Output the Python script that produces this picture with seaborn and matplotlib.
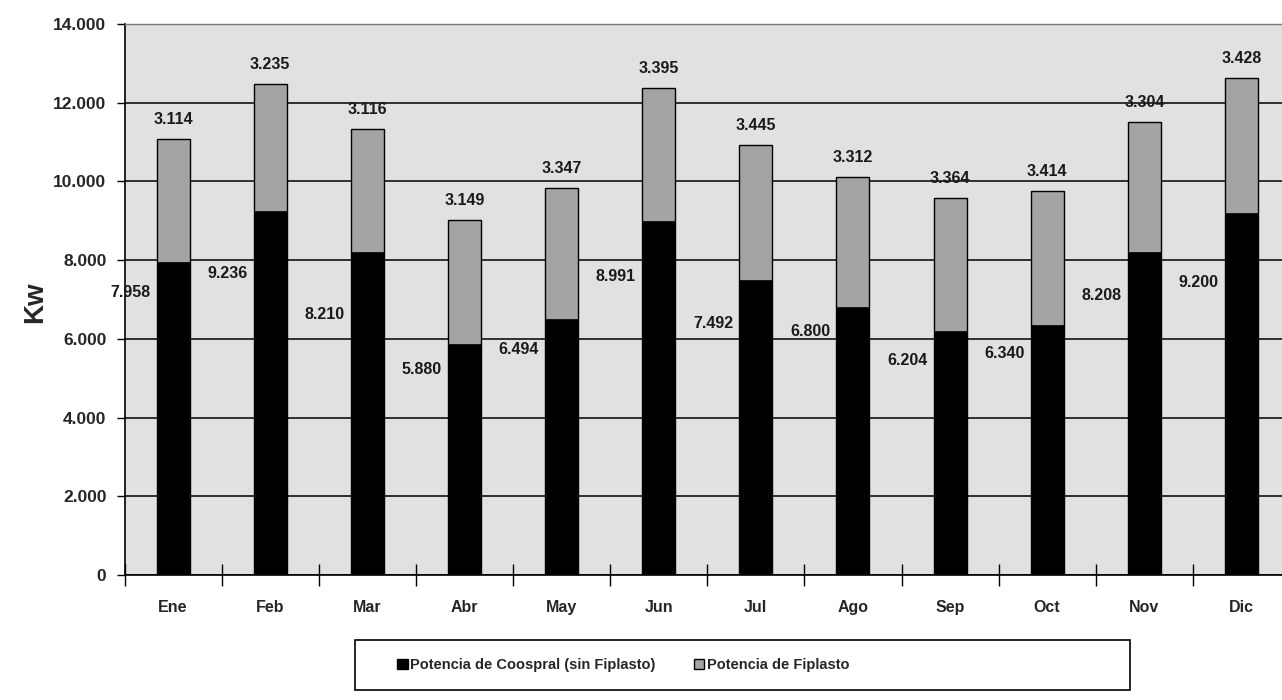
import matplotlib
matplotlib.use("Agg")
import matplotlib.pyplot as plt
from matplotlib.patches import Patch, Rectangle
from matplotlib.ticker import FuncFormatter, FixedLocator, NullFormatter
import pandas as pd
import seaborn as sns

months = ["Ene", "Feb", "Mar", "Abr", "May", "Jun", "Jul", "Ago", "Sep", "Oct", "Nov", "Dic"]
coospral = [7958, 9236, 8210, 5880, 6494, 8991, 7492, 6800, 6204, 6340, 8208, 9200]
fiplasto = [3114, 3235, 3116, 3149, 3347, 3395, 3445, 3312, 3364, 3414, 3304, 3428]
# where the Excel labels for the black segment sit (Kw)
coospral_label_y = [7190, 7673, 6631, 5234, 5742, 7597, 6402, 6199, 5462, 5640, 7114, 7444]

df = pd.DataFrame({"mes": months, "coospral": coospral, "fiplasto": fiplasto})
df["total"] = df["coospral"] + df["fiplasto"]

sns.set_style("white")
plt.rcParams["font.family"] = ["Liberation Sans", "DejaVu Sans"]

def miles(v, pos=None):
    return f"{int(round(v)):,}".replace(",", ".")

fig = plt.figure(figsize=(12.82, 7.0), dpi=100)
ax = fig.add_axes([124.5 / 1282, 1 - 575 / 700, (1290 - 124.5) / 1282, 551 / 700])
ax.set_facecolor("#E1E1E1")

# stacked bars: total (gray) behind, coospral (black) in front
sns.barplot(data=df, x="mes", y="total", color="#A4A4A4", edgecolor="black",
            linewidth=1.0, width=0.34, saturation=1, ax=ax, zorder=2)
sns.barplot(data=df, x="mes", y="coospral", color="black", edgecolor="black",
            linewidth=0.5, width=0.34, saturation=1, ax=ax, zorder=3)

ax.set_xlim(-0.5, len(months) - 0.5)
ax.set_ylim(0, 14000)
ax.set_yticks(range(0, 14001, 2000))
ax.yaxis.set_major_formatter(FuncFormatter(miles))
ax.grid(axis="y", color="black", linewidth=1.1)
ax.set_axisbelow(True)
ax.set_xlabel("")
ax.set_ylabel("")

ax.tick_params(axis="y", which="major", left=True, direction="out", length=6, width=1,
               color="black", labelsize=12.5, pad=7)
for t in ax.get_yticklabels():
    t.set_fontweight("bold")
ax.tick_params(axis="x", which="major", bottom=True, length=0, labelsize=11.5, pad=18)
for t in ax.get_xticklabels():
    t.set_fontweight("bold")
ax.xaxis.set_minor_locator(FixedLocator([i - 0.5 for i in range(len(months))]))
ax.xaxis.set_minor_formatter(NullFormatter())
ax.tick_params(axis="x", which="minor", bottom=True, direction="inout", length=16,
               width=1, color="black")

for side in ["left", "bottom"]:
    ax.spines[side].set_color("black")
    ax.spines[side].set_linewidth(1.2)
ax.spines["top"].set_color("#7A7A7A")
ax.spines["top"].set_linewidth(1)
ax.spines["right"].set_visible(False)

for i, (c, f, ly) in enumerate(zip(coospral, fiplasto, coospral_label_y)):
    ax.annotate(miles(f), (i, c + f), xytext=(0, 14), textcoords="offset points",
                ha="center", va="center", fontsize=11.5, fontweight="bold", color="#1A1A1A")
    ax.text(i - 0.44, ly, miles(c), ha="center", va="center", fontsize=11.5,
            fontweight="bold", color="#1A1A1A")

fig.text(35 / 1282, 1 - 302 / 700, "Kw", rotation=90, ha="center", va="center",
         fontsize=20, fontweight="bold")

# legend box
fig.patches.append(Rectangle((355 / 1282, 1 - 690 / 700), 775 / 1282, 50 / 700,
                             transform=fig.transFigure, facecolor="white",
                             edgecolor="black", linewidth=1.2))
handles = [Patch(facecolor="black", edgecolor="black", label="Potencia de Coospral (sin Fiplasto)"),
           Patch(facecolor="#A4A4A4", edgecolor="black", label="Potencia de Fiplasto")]
fig.legend(handles=handles, loc="center left", bbox_to_anchor=(390 / 1282, 1 - 665 / 700),
           ncol=2, frameon=False, handlelength=0.7, handleheight=0.7, handletextpad=0.2,
           columnspacing=2.6, borderpad=0, prop={"weight": "bold", "size": 10.5})

fig.savefig("out.png", dpi=100)
